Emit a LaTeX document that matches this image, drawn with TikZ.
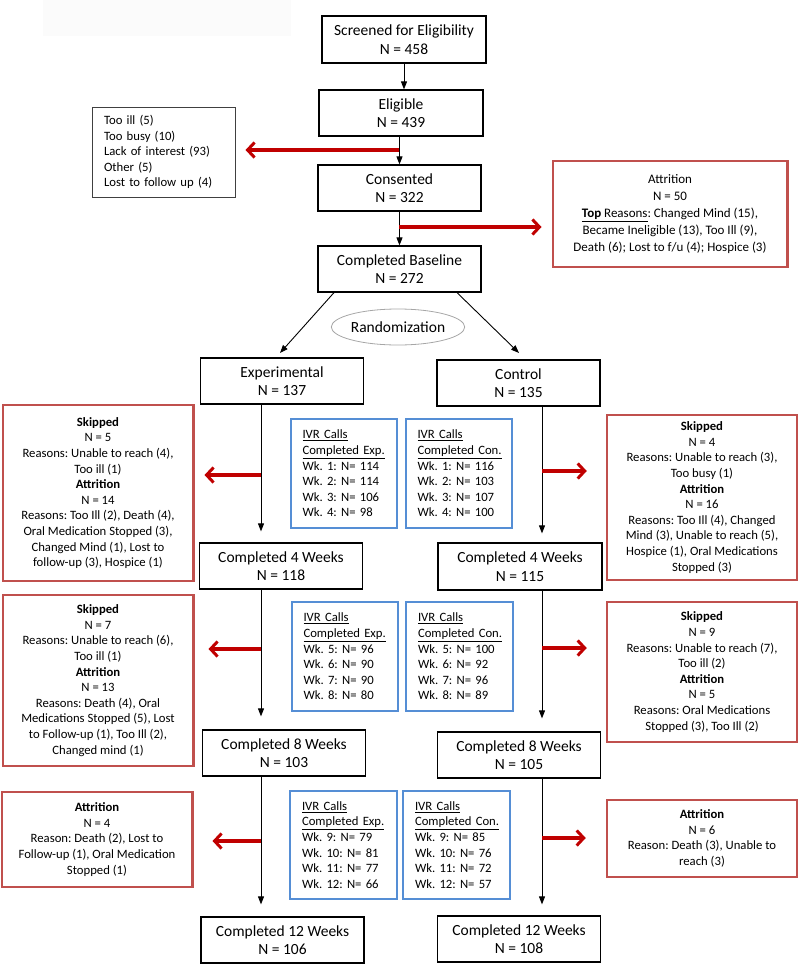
\documentclass[tikz,border=0pt]{standalone}
\usepackage{fontspec}
\setmainfont{Carlito}
\usetikzlibrary{arrows.meta,shapes.geometric}
\definecolor{redline}{RGB}{192,0,0}
\definecolor{redbox}{RGB}{192,80,77}
\definecolor{bluebox}{RGB}{85,142,213}
\begin{document}
\frenchspacing
\begin{tikzpicture}[x=1pt,y=-1pt,
  mainbox/.style={draw=black, line width=1.2pt, align=center, inner sep=0pt,
    font=\fontsize{15.5}{18.6}\selectfont\frenchspacing,
    execute at begin node={\rule{0pt}{19pt}}},
  redbx/.style={draw=redbox, line width=2.5pt, align=center, inner sep=0pt,
    font=\fontsize{12.7}{15.6}\selectfont\frenchspacing},
  ivr/.style={draw=bluebox, line width=2pt, align=left, text width=83pt, inner sep=0pt,
    minimum width=106pt, font=\fontsize{12.7}{15.6}\selectfont\frenchspacing},
  greybox/.style={draw=black!75, line width=1pt, align=left, inner sep=0pt,
    font=\fontsize{12.7}{15.6}\selectfont\frenchspacing},
  arr/.style={-{Triangle[length=8pt,width=6pt]}, line width=0.9pt},
  redarr/.style={-{Straight Barb[length=7pt,width=15pt,line width=3pt]}, draw=redline, line width=3.5pt}
]
\useasboundingbox (0,0) rectangle (800,964);
\fill[black!1.5] (43,0) rectangle (291,36);

% top chain
\node[mainbox, minimum width=164pt, minimum height=47pt] (scr) at (404,39.5) {Screened for Eligibility\\N = 458};
\node[mainbox, minimum width=164pt, minimum height=46pt] (elig) at (401,113) {Eligible\\N = 439};
\node[mainbox, minimum width=163pt, minimum height=46pt] (cons) at (399.5,188) {Consented\\N = 322};
\node[mainbox, minimum width=163pt, minimum height=46pt] (base) at (399.5,269) {Completed Baseline\\N = 272};

\node[greybox, text width=119pt, minimum width=143pt, minimum height=90pt] (excl) at (163.5,152)
  {Too ill (5)\\Too busy (10)\\Lack of interest (93)\\Other (5)\\Lost to follow up (4)};
\node[redbx, minimum width=234.5pt, minimum height=106pt, font=\fontsize{13}{17}\selectfont\frenchspacing] (attr) at (670,214)
  {Attrition\\N = 50\\\underline{\textbf{Top} Reasons}: Changed Mind (15),\\Became Ineligible (13), Too Ill (9),\\Death (6); Lost to f/u (4); Hospice (3)};

\node[ellipse, draw=black!35, line width=0.8pt, minimum width=116pt, minimum height=36pt, inner sep=0pt,
  font=\fontsize{15.5}{18.6}\selectfont] (rand) at (398,327) {Randomization};

\node[mainbox, minimum width=163.5pt, minimum height=46pt] (exp) at (282,381) {Experimental\\N = 137};
\node[mainbox, minimum width=163pt, minimum height=46pt] (con) at (518.5,383) {Control\\N = 135};

% week 1-4
\node[redbx, minimum width=190.5pt, minimum height=176pt] (L1) at (98,493)
  {\textbf{Skipped}\\N = 5\\Reasons: Unable to reach (4),\\Too ill (1)\\\textbf{Attrition}\\N = 14\\Reasons: Too Ill (2), Death (4),\\Oral Medication Stopped (3),\\Changed Mind (1), Lost to\\follow-up (3), Hospice (1)};
\node[ivr, minimum height=109pt] (IE1) at (344,473.5)
  {\underline{IVR Calls}\\\underline{Completed Exp.}\\Wk. 1: N= 114\\Wk. 2: N= 114\\Wk. 3: N= 106\\Wk. 4: N= 98};
\node[ivr, minimum height=109pt] (IC1) at (459,473.5)
  {\underline{IVR Calls}\\\underline{Completed Con.}\\Wk. 1: N= 116\\Wk. 2: N= 103\\Wk. 3: N= 107\\Wk. 4: N= 100};
\node[redbx, minimum width=190pt, minimum height=165pt] (R1) at (702,497.5)
  {\textbf{Skipped}\\N = 4\\Reasons: Unable to reach (3),\\Too busy (1)\\\textbf{Attrition}\\N = 16\\Reasons: Too Ill (4), Changed\\Mind (3), Unable to reach (5),\\Hospice (1), Oral Medications\\Stopped (3)};

\node[mainbox, minimum width=163.5pt, minimum height=46pt] (c4e) at (281,566) {Completed 4 Weeks\\N = 118};
\node[mainbox, minimum width=164pt, minimum height=47pt] (c4c) at (520,566.5) {Completed 4 Weeks\\N = 115};

% week 5-8
\node[redbx, minimum width=190.5pt, minimum height=171pt] (L2) at (98,680.5)
  {\textbf{Skipped}\\N = 7\\Reasons: Unable to reach (6),\\Too ill (1)\\\textbf{Attrition}\\N = 13\\Reasons: Death (4), Oral\\Medications Stopped (5), Lost\\to Follow-up (1), Too Ill (2),\\Changed mind (1)};
\node[ivr, minimum height=109pt] (IE2) at (345,656.5)
  {\underline{IVR Calls}\\\underline{Completed Exp.}\\Wk. 5: N= 96\\Wk. 6: N= 90\\Wk. 7: N= 90\\Wk. 8: N= 80};
\node[ivr, minimum height=109pt, minimum width=107pt] (IC2) at (459.5,656.5)
  {\underline{IVR Calls}\\\underline{Completed Con.}\\Wk. 5: N= 100\\Wk. 6: N= 92\\Wk. 7: N= 96\\Wk. 8: N= 89};
\node[redbx, minimum width=190pt, minimum height=140pt] (R2) at (702,672)
  {\textbf{Skipped}\\N = 9\\Reasons: Unable to reach (7),\\Too ill (2)\\\textbf{Attrition}\\N = 5\\Reasons: Oral Medications\\Stopped (3), Too Ill (2)};

\node[mainbox, minimum width=163.5pt, minimum height=46pt] (c8e) at (284,753) {Completed 8 Weeks\\N = 103};
\node[mainbox, minimum width=163.5pt, minimum height=46pt] (c8c) at (519,755) {Completed 8 Weeks\\N = 105};

% week 9-12
\node[redbx, minimum width=190.5pt, minimum height=95pt] (L3) at (97,839.5)
  {\textbf{Attrition}\\N = 4\\Reason: Death (2), Lost to\\Follow-up (1), Oral Medication\\Stopped (1)};
\node[ivr, minimum height=108pt, minimum width=107pt] (IE3) at (343.5,845)
  {\underline{IVR Calls}\\\underline{Completed Exp.}\\Wk. 9: N= 79\\Wk. 10: N= 81\\Wk. 11: N= 77\\Wk. 12: N= 66};
\node[ivr, minimum height=108pt, minimum width=107pt] (IC3) at (456.5,845)
  {\underline{IVR Calls}\\\underline{Completed Con.}\\Wk. 9: N= 85\\Wk. 10: N= 76\\Wk. 11: N= 72\\Wk. 12: N= 57};
\node[redbx, minimum width=190pt, minimum height=77pt] (R3) at (702,838.5)
  {\textbf{Attrition}\\N = 6\\Reason: Death (3), Unable to\\reach (3)};

\node[mainbox, minimum width=163pt, minimum height=46pt] (c12e) at (282.5,940) {Completed 12 Weeks\\N = 106};
\node[mainbox, minimum width=163.5pt, minimum height=46pt] (c12c) at (519,939) {Completed 12 Weeks\\N = 108};

% connectors
\coordinate (xe) at (261,0);
\coordinate (xc) at (542,0);
\coordinate (te) at (280,353);
\coordinate (tc) at (519,353);

\draw[arr] (scr.south) -- (scr.south |- elig.north);
\draw[arr] (elig.south -| cons.south) -- (cons.north);
\draw[arr] (cons.south) -- (base.north);
\draw[arr] ([xshift=-65.5pt]base.south) -- (te);
\draw[arr] ([xshift=57.5pt]base.south) -- (tc);

\draw[arr, shorten >=11pt] (exp.south -| xe) -- (c4e.north -| xe);
\draw[arr, shorten >=13pt] (c4e.south -| xe) -- (c8e.north -| xe);
\draw[arr, shorten >=12pt] (c8e.south -| xe) -- (c12e.north -| xe);
\draw[arr, shorten >=9pt] (con.south -| xc) -- (c4c.north -| xc);
\draw[arr, shorten >=13pt] (c4c.south -| xc) -- (c8c.north -| xc);
\draw[arr, shorten >=11pt] (c8c.south -| xc) -- (c12c.north -| xc);

\coordinate (be) at (399,150);
\coordinate (ba) at (399,227);
\coordinate (bl1) at (261,475);
\coordinate (bl2) at (261,649);
\coordinate (bl3) at (261,841);
\coordinate (br1) at (542,471);
\coordinate (br2) at (542,648);
\coordinate (br3) at (542,838);

\draw[redarr, shorten >=10pt] (be) -- (be -| excl.east);
\draw[redarr, shorten >=10pt] (ba) -- (ba -| attr.west);
\draw[redarr, shorten >=10pt] (bl1) -- (bl1 -| L1.east);
\draw[redarr, shorten >=14pt] (bl2) -- (bl2 -| L2.east);
\draw[redarr, shorten >=19pt] (bl3) -- (bl3 -| L3.east);
\draw[redarr, shorten >=19pt] (br1) -- (br1 -| R1.west);
\draw[redarr, shorten >=19pt] (br2) -- (br2 -| R2.west);
\draw[redarr, shorten >=20pt] (br3) -- (br3 -| R3.west);
\end{tikzpicture}
\end{document}
